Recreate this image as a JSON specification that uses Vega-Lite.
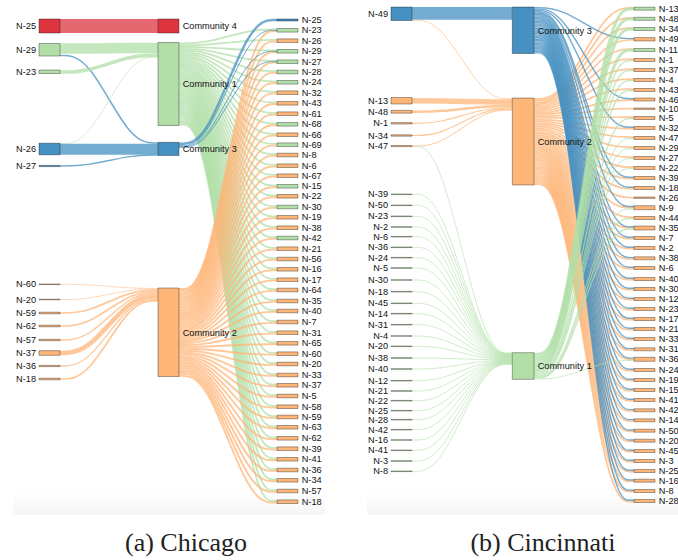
{"$schema":"https://vega.github.io/schema/vega-lite/v6.json","width":678,"height":560,"padding":0,"autosize":"none","background":"white","view":{"stroke":null},
"datasets":{
"links":[
{"id":"a-L-1","c":"4","w":14,"x":[60,87.4,130.6,158],"y":[26,26,26,26]},
{"id":"a-L-2","c":"1","w":10.5,"x":[60,87.4,130.6,158],"y":[48.5,48.5,48,48]},
{"id":"a-L-3","c":"3","w":1.5,"x":[60,87.4,130.6,158],"y":[55.5,55.5,143,143]},
{"id":"a-L-4","c":"1","w":3.5,"x":[60,87.4,130.6,158],"y":[72,72,55.2,55.2]},
{"id":"a-L-5","c":"1","w":0.7,"x":[60,87.4,130.6,158],"y":[143.4,143.4,57.3,57.3]},
{"id":"a-L-6","c":"3","w":11,"x":[60,87.4,130.6,158],"y":[149.2,149.2,149.2,149.2]},
{"id":"a-L-7","c":"3","w":1.4,"x":[60,87.4,130.6,158],"y":[166,166,155,155]},
{"id":"a-L-8","c":"2","w":0.7,"x":[60,87.4,130.6,158],"y":[284.3,284.3,288.4,288.4]},
{"id":"a-L-9","c":"2","w":0.7,"x":[60,87.4,130.6,158],"y":[299.5,299.5,289.1,289.1]},
{"id":"a-L-10","c":"2","w":1.7,"x":[60,87.4,130.6,158],"y":[313,313,290.3,290.3]},
{"id":"a-L-11","c":"2","w":1.7,"x":[60,87.4,130.6,158],"y":[326,326,292,292]},
{"id":"a-L-12","c":"2","w":1.4,"x":[60,87.4,130.6,158],"y":[340,340,293.5,293.5]},
{"id":"a-L-13","c":"2","w":4.5,"x":[60,87.4,130.6,158],"y":[353,353,296.5,296.5]},
{"id":"a-L-14","c":"2","w":1.3,"x":[60,87.4,130.6,158],"y":[366,366,299.4,299.4]},
{"id":"a-L-15","c":"2","w":1.7,"x":[60,87.4,130.6,158],"y":[379,379,300.9,300.9]},
{"id":"a-g-23","c":"1","w":1.8,"x":[179,206.4,249.6,277],"y":[43.4,43.4,29.5,29.5]},
{"id":"a-g-26","c":"1","w":1.8,"x":[179,206.4,249.6,277],"y":[45.2,45.2,39.9,39.9]},
{"id":"a-g-29","c":"1","w":1.8,"x":[179,206.4,249.6,277],"y":[47,47,50.5,50.5]},
{"id":"a-g-27","c":"1","w":1.8,"x":[179,206.4,249.6,277],"y":[48.8,48.8,60.9,60.9]},
{"id":"a-g-28","c":"1","w":1.8,"x":[179,206.4,249.6,277],"y":[50.6,50.6,71.2,71.2]},
{"id":"a-g-24","c":"1","w":1.8,"x":[179,206.4,249.6,277],"y":[52.4,52.4,81.5,81.5]},
{"id":"a-g-32","c":"1","w":1.8,"x":[179,206.4,249.6,277],"y":[54.2,54.2,91.9,91.9]},
{"id":"a-g-43","c":"1","w":1.8,"x":[179,206.4,249.6,277],"y":[56,56,102.5,102.5]},
{"id":"a-g-61","c":"1","w":1.8,"x":[179,206.4,249.6,277],"y":[57.8,57.8,112.9,112.9]},
{"id":"a-g-68","c":"1","w":1.8,"x":[179,206.4,249.6,277],"y":[59.6,59.6,123.5,123.5]},
{"id":"a-g-66","c":"1","w":1.8,"x":[179,206.4,249.6,277],"y":[61.4,61.4,133.9,133.9]},
{"id":"a-g-69","c":"1","w":1.8,"x":[179,206.4,249.6,277],"y":[63.2,63.2,143.9,143.9]},
{"id":"a-g-8","c":"1","w":1.8,"x":[179,206.4,249.6,277],"y":[65,65,154.2,154.2]},
{"id":"a-g-6","c":"1","w":1.8,"x":[179,206.4,249.6,277],"y":[66.9,66.9,164.9,164.9]},
{"id":"a-g-67","c":"1","w":1.8,"x":[179,206.4,249.6,277],"y":[68.7,68.7,174.9,174.9]},
{"id":"a-g-15","c":"1","w":1.8,"x":[179,206.4,249.6,277],"y":[70.5,70.5,185.5,185.5]},
{"id":"a-g-22","c":"1","w":1.8,"x":[179,206.4,249.6,277],"y":[72.3,72.3,195.5,195.5]},
{"id":"a-g-30","c":"1","w":1.8,"x":[179,206.4,249.6,277],"y":[74.1,74.1,206.2,206.2]},
{"id":"a-g-19","c":"1","w":1.8,"x":[179,206.4,249.6,277],"y":[75.9,75.9,216.5,216.5]},
{"id":"a-g-38","c":"1","w":1.8,"x":[179,206.4,249.6,277],"y":[77.7,77.7,226.9,226.9]},
{"id":"a-g-42","c":"1","w":1.8,"x":[179,206.4,249.6,277],"y":[79.5,79.5,237.2,237.2]},
{"id":"a-g-21","c":"1","w":1.8,"x":[179,206.4,249.6,277],"y":[81.3,81.3,247.9,247.9]},
{"id":"a-g-56","c":"1","w":1.8,"x":[179,206.4,249.6,277],"y":[83.1,83.1,258.2,258.2]},
{"id":"a-g-16","c":"1","w":1.8,"x":[179,206.4,249.6,277],"y":[84.9,84.9,268.5,268.5]},
{"id":"a-g-17","c":"1","w":1.8,"x":[179,206.4,249.6,277],"y":[86.7,86.7,278.9,278.9]},
{"id":"a-g-64","c":"1","w":1.8,"x":[179,206.4,249.6,277],"y":[88.5,88.5,289.2,289.2]},
{"id":"a-g-35","c":"1","w":1.8,"x":[179,206.4,249.6,277],"y":[90.3,90.3,300.2,300.2]},
{"id":"a-g-40","c":"1","w":1.8,"x":[179,206.4,249.6,277],"y":[92.2,92.2,310.2,310.2]},
{"id":"a-g-7","c":"1","w":1.8,"x":[179,206.4,249.6,277],"y":[94,94,321.2,321.2]},
{"id":"a-g-31","c":"1","w":1.8,"x":[179,206.4,249.6,277],"y":[95.8,95.8,331.9,331.9]},
{"id":"a-g-65","c":"1","w":1.8,"x":[179,206.4,249.6,277],"y":[97.6,97.6,342.5,342.5]},
{"id":"a-g-60","c":"1","w":1.8,"x":[179,206.4,249.6,277],"y":[99.4,99.4,352.9,352.9]},
{"id":"a-g-20","c":"1","w":1.8,"x":[179,206.4,249.6,277],"y":[101.2,101.2,363.2,363.2]},
{"id":"a-g-33","c":"1","w":1.8,"x":[179,206.4,249.6,277],"y":[103,103,374.2,374.2]},
{"id":"a-g-37","c":"1","w":1.8,"x":[179,206.4,249.6,277],"y":[104.8,104.8,384.5,384.5]},
{"id":"a-g-5","c":"1","w":1.8,"x":[179,206.4,249.6,277],"y":[106.6,106.6,395.2,395.2]},
{"id":"a-g-58","c":"1","w":1.8,"x":[179,206.4,249.6,277],"y":[108.4,108.4,405.9,405.9]},
{"id":"a-g-59","c":"1","w":1.8,"x":[179,206.4,249.6,277],"y":[110.2,110.2,416.2,416.2]},
{"id":"a-g-63","c":"1","w":1.8,"x":[179,206.4,249.6,277],"y":[112,112,426.5,426.5]},
{"id":"a-g-62","c":"1","w":1.8,"x":[179,206.4,249.6,277],"y":[113.8,113.8,437.5,437.5]},
{"id":"a-g-39","c":"1","w":1.8,"x":[179,206.4,249.6,277],"y":[115.6,115.6,447.9,447.9]},
{"id":"a-g-41","c":"1","w":1.8,"x":[179,206.4,249.6,277],"y":[117.4,117.4,458.5,458.5]},
{"id":"a-g-36","c":"1","w":1.8,"x":[179,206.4,249.6,277],"y":[119.3,119.3,469.2,469.2]},
{"id":"a-g-34","c":"1","w":1.8,"x":[179,206.4,249.6,277],"y":[121.1,121.1,479.5,479.5]},
{"id":"a-g-57","c":"1","w":1.8,"x":[179,206.4,249.6,277],"y":[122.9,122.9,490.2,490.2]},
{"id":"a-g-18","c":"1","w":1.8,"x":[179,206.4,249.6,277],"y":[124.7,124.7,500.9,500.9]},
{"id":"a-o-23","c":"2","w":1.9,"x":[179,206.4,249.6,277],"y":[289,289,31.2,31.2]},
{"id":"a-o-26","c":"2","w":1.9,"x":[179,206.4,249.6,277],"y":[290.9,290.9,41.6,41.6]},
{"id":"a-o-29","c":"2","w":1.9,"x":[179,206.4,249.6,277],"y":[292.9,292.9,52.2,52.2]},
{"id":"a-o-27","c":"2","w":1.9,"x":[179,206.4,249.6,277],"y":[294.8,294.8,62.6,62.6]},
{"id":"a-o-28","c":"2","w":1.9,"x":[179,206.4,249.6,277],"y":[296.7,296.7,72.9,72.9]},
{"id":"a-o-24","c":"2","w":1.9,"x":[179,206.4,249.6,277],"y":[298.7,298.7,83.2,83.2]},
{"id":"a-o-32","c":"2","w":1.9,"x":[179,206.4,249.6,277],"y":[300.6,300.6,93.6,93.6]},
{"id":"a-o-43","c":"2","w":1.9,"x":[179,206.4,249.6,277],"y":[302.5,302.5,104.2,104.2]},
{"id":"a-o-61","c":"2","w":1.9,"x":[179,206.4,249.6,277],"y":[304.4,304.4,114.6,114.6]},
{"id":"a-o-68","c":"2","w":1.9,"x":[179,206.4,249.6,277],"y":[306.4,306.4,125.2,125.2]},
{"id":"a-o-66","c":"2","w":1.9,"x":[179,206.4,249.6,277],"y":[308.3,308.3,135.6,135.6]},
{"id":"a-o-69","c":"2","w":1.9,"x":[179,206.4,249.6,277],"y":[310.2,310.2,145.6,145.6]},
{"id":"a-o-8","c":"2","w":1.9,"x":[179,206.4,249.6,277],"y":[312.2,312.2,155.9,155.9]},
{"id":"a-o-6","c":"2","w":1.9,"x":[179,206.4,249.6,277],"y":[314.1,314.1,166.6,166.6]},
{"id":"a-o-67","c":"2","w":1.9,"x":[179,206.4,249.6,277],"y":[316,316,176.6,176.6]},
{"id":"a-o-15","c":"2","w":1.9,"x":[179,206.4,249.6,277],"y":[318,318,187.2,187.2]},
{"id":"a-o-22","c":"2","w":1.9,"x":[179,206.4,249.6,277],"y":[319.9,319.9,197.2,197.2]},
{"id":"a-o-30","c":"2","w":1.9,"x":[179,206.4,249.6,277],"y":[321.8,321.8,207.9,207.9]},
{"id":"a-o-19","c":"2","w":1.9,"x":[179,206.4,249.6,277],"y":[323.7,323.7,218.2,218.2]},
{"id":"a-o-38","c":"2","w":1.9,"x":[179,206.4,249.6,277],"y":[325.7,325.7,228.6,228.6]},
{"id":"a-o-42","c":"2","w":1.9,"x":[179,206.4,249.6,277],"y":[327.6,327.6,238.9,238.9]},
{"id":"a-o-21","c":"2","w":1.9,"x":[179,206.4,249.6,277],"y":[329.5,329.5,249.6,249.6]},
{"id":"a-o-56","c":"2","w":1.9,"x":[179,206.4,249.6,277],"y":[331.5,331.5,259.9,259.9]},
{"id":"a-o-16","c":"2","w":1.9,"x":[179,206.4,249.6,277],"y":[333.4,333.4,270.2,270.2]},
{"id":"a-o-17","c":"2","w":1.9,"x":[179,206.4,249.6,277],"y":[335.3,335.3,280.6,280.6]},
{"id":"a-o-64","c":"2","w":1.9,"x":[179,206.4,249.6,277],"y":[337.3,337.3,290.9,290.9]},
{"id":"a-o-35","c":"2","w":1.9,"x":[179,206.4,249.6,277],"y":[339.2,339.2,301.9,301.9]},
{"id":"a-o-40","c":"2","w":1.9,"x":[179,206.4,249.6,277],"y":[341.1,341.1,311.9,311.9]},
{"id":"a-o-7","c":"2","w":1.9,"x":[179,206.4,249.6,277],"y":[343,343,322.9,322.9]},
{"id":"a-o-31","c":"2","w":1.9,"x":[179,206.4,249.6,277],"y":[345,345,333.6,333.6]},
{"id":"a-o-65","c":"2","w":1.9,"x":[179,206.4,249.6,277],"y":[346.9,346.9,344.2,344.2]},
{"id":"a-o-60","c":"2","w":1.9,"x":[179,206.4,249.6,277],"y":[348.8,348.8,354.6,354.6]},
{"id":"a-o-20","c":"2","w":1.9,"x":[179,206.4,249.6,277],"y":[350.8,350.8,364.9,364.9]},
{"id":"a-o-33","c":"2","w":1.9,"x":[179,206.4,249.6,277],"y":[352.7,352.7,375.9,375.9]},
{"id":"a-o-37","c":"2","w":1.9,"x":[179,206.4,249.6,277],"y":[354.6,354.6,386.2,386.2]},
{"id":"a-o-5","c":"2","w":1.9,"x":[179,206.4,249.6,277],"y":[356.6,356.6,396.9,396.9]},
{"id":"a-o-58","c":"2","w":1.9,"x":[179,206.4,249.6,277],"y":[358.5,358.5,407.6,407.6]},
{"id":"a-o-59","c":"2","w":1.9,"x":[179,206.4,249.6,277],"y":[360.4,360.4,417.9,417.9]},
{"id":"a-o-63","c":"2","w":1.9,"x":[179,206.4,249.6,277],"y":[362.3,362.3,428.2,428.2]},
{"id":"a-o-62","c":"2","w":1.9,"x":[179,206.4,249.6,277],"y":[364.3,364.3,439.2,439.2]},
{"id":"a-o-39","c":"2","w":1.9,"x":[179,206.4,249.6,277],"y":[366.2,366.2,449.6,449.6]},
{"id":"a-o-41","c":"2","w":1.9,"x":[179,206.4,249.6,277],"y":[368.1,368.1,460.2,460.2]},
{"id":"a-o-36","c":"2","w":1.9,"x":[179,206.4,249.6,277],"y":[370.1,370.1,470.9,470.9]},
{"id":"a-o-34","c":"2","w":1.9,"x":[179,206.4,249.6,277],"y":[372,372,481.2,481.2]},
{"id":"a-o-57","c":"2","w":1.9,"x":[179,206.4,249.6,277],"y":[373.9,373.9,491.9,491.9]},
{"id":"a-o-18","c":"2","w":1.9,"x":[179,206.4,249.6,277],"y":[375.9,375.9,502.6,502.6]},
{"id":"a-b-25","c":"3","w":2.4,"x":[179,206.4,249.6,277],"y":[143.7,143.7,20,20]},
{"id":"a-b-23","c":"3","w":1,"x":[179,206.4,249.6,277],"y":[145.4,145.4,30.3,30.3]},
{"id":"a-b-29","c":"3","w":1,"x":[179,206.4,249.6,277],"y":[146.4,146.4,51.3,51.3]},
{"id":"a-b-27","c":"3","w":1,"x":[179,206.4,249.6,277],"y":[147.4,147.4,61.7,61.7]},
{"id":"b-L-1","c":"3","w":12.6,"x":[412,440,484,512],"y":[13.4,13.4,13.4,13.4]},
{"id":"b-L-2","c":"2","w":0.8,"x":[412,440,484,512],"y":[20.3,20.3,98.7,98.7]},
{"id":"b-L-3","c":"2","w":5.5,"x":[412,440,484,512],"y":[100.8,100.8,102,102]},
{"id":"b-L-4","c":"2","w":2.5,"x":[412,440,484,512],"y":[111.8,111.8,106,106]},
{"id":"b-L-5","c":"2","w":1.2,"x":[412,440,484,512],"y":[123.3,123.3,107.9,107.9]},
{"id":"b-L-6","c":"2","w":1.2,"x":[412,440,484,512],"y":[135.5,135.5,109.1,109.1]},
{"id":"b-L-7","c":"2","w":1,"x":[412,440,484,512],"y":[146,146,110.2,110.2]},
{"id":"b-G-47","c":"1","w":0.8,"x":[412,440,484,512],"y":[146.5,146.5,353,353]},
{"id":"b-G-39","c":"1","w":0.8,"x":[412,440,484,512],"y":[194.3,194.3,353.4,353.4]},
{"id":"b-G-50","c":"1","w":0.8,"x":[412,440,484,512],"y":[205.3,205.3,353.8,353.8]},
{"id":"b-G-23","c":"1","w":0.8,"x":[412,440,484,512],"y":[216.3,216.3,354.3,354.3]},
{"id":"b-G-2","c":"1","w":0.8,"x":[412,440,484,512],"y":[227,227,354.7,354.7]},
{"id":"b-G-6","c":"1","w":0.8,"x":[412,440,484,512],"y":[236.7,236.7,355.1,355.1]},
{"id":"b-G-36","c":"1","w":0.8,"x":[412,440,484,512],"y":[247.3,247.3,355.5,355.5]},
{"id":"b-G-24","c":"1","w":0.8,"x":[412,440,484,512],"y":[257.7,257.7,355.9,355.9]},
{"id":"b-G-5","c":"1","w":0.8,"x":[412,440,484,512],"y":[268,268,356.4,356.4]},
{"id":"b-G-30","c":"1","w":0.8,"x":[412,440,484,512],"y":[280,280,356.8,356.8]},
{"id":"b-G-18","c":"1","w":0.8,"x":[412,440,484,512],"y":[291.7,291.7,357.2,357.2]},
{"id":"b-G-45","c":"1","w":0.8,"x":[412,440,484,512],"y":[303.3,303.3,357.6,357.6]},
{"id":"b-G-14","c":"1","w":0.8,"x":[412,440,484,512],"y":[313.7,313.7,358,358]},
{"id":"b-G-31","c":"1","w":0.8,"x":[412,440,484,512],"y":[324.7,324.7,358.5,358.5]},
{"id":"b-G-4","c":"1","w":0.8,"x":[412,440,484,512],"y":[336,336,358.9,358.9]},
{"id":"b-G-20","c":"1","w":0.8,"x":[412,440,484,512],"y":[346.3,346.3,359.3,359.3]},
{"id":"b-G-38","c":"1","w":0.8,"x":[412,440,484,512],"y":[358,358,359.7,359.7]},
{"id":"b-G-40","c":"1","w":0.8,"x":[412,440,484,512],"y":[369,369,360.1,360.1]},
{"id":"b-G-12","c":"1","w":0.8,"x":[412,440,484,512],"y":[380.7,380.7,360.6,360.6]},
{"id":"b-G-21","c":"1","w":0.8,"x":[412,440,484,512],"y":[391,391,361,361]},
{"id":"b-G-22","c":"1","w":0.8,"x":[412,440,484,512],"y":[400.7,400.7,361.4,361.4]},
{"id":"b-G-25","c":"1","w":0.8,"x":[412,440,484,512],"y":[410.7,410.7,361.8,361.8]},
{"id":"b-G-28","c":"1","w":0.8,"x":[412,440,484,512],"y":[419.7,419.7,362.2,362.2]},
{"id":"b-G-42","c":"1","w":0.8,"x":[412,440,484,512],"y":[429.7,429.7,362.7,362.7]},
{"id":"b-G-16","c":"1","w":0.8,"x":[412,440,484,512],"y":[440,440,363.1,363.1]},
{"id":"b-G-41","c":"1","w":0.8,"x":[412,440,484,512],"y":[450.3,450.3,363.5,363.5]},
{"id":"b-G-3","c":"1","w":0.8,"x":[412,440,484,512],"y":[461,461,363.9,363.9]},
{"id":"b-G-8","c":"1","w":0.8,"x":[412,440,484,512],"y":[471.3,471.3,364.3,364.3]},
{"id":"b-o-13","c":"2","w":1.74,"x":[534,562,606,634],"y":[98.9,98.9,7.8,7.8]},
{"id":"b-o-48","c":"2","w":1.74,"x":[534,562,606,634],"y":[100.6,100.6,17.9,17.9]},
{"id":"b-o-34","c":"2","w":1.74,"x":[534,562,606,634],"y":[102.4,102.4,28.1,28.1]},
{"id":"b-o-49","c":"2","w":1.74,"x":[534,562,606,634],"y":[104.1,104.1,40,40]},
{"id":"b-o-11","c":"2","w":1.74,"x":[534,562,606,634],"y":[105.9,105.9,49.1,49.1]},
{"id":"b-o-1","c":"2","w":1.74,"x":[534,562,606,634],"y":[107.6,107.6,59.1,59.1]},
{"id":"b-o-37","c":"2","w":1.74,"x":[534,562,606,634],"y":[109.3,109.3,69.1,69.1]},
{"id":"b-o-4","c":"2","w":1.74,"x":[534,562,606,634],"y":[111.1,111.1,79.1,79.1]},
{"id":"b-o-43","c":"2","w":1.74,"x":[534,562,606,634],"y":[112.8,112.8,89.1,89.1]},
{"id":"b-o-46","c":"2","w":1.74,"x":[534,562,606,634],"y":[114.6,114.6,100.2,100.2]},
{"id":"b-o-10","c":"2","w":1.74,"x":[534,562,606,634],"y":[116.3,116.3,108.7,108.7]},
{"id":"b-o-5","c":"2","w":1.74,"x":[534,562,606,634],"y":[118,118,117.1,117.1]},
{"id":"b-o-32","c":"2","w":1.74,"x":[534,562,606,634],"y":[119.8,119.8,128.7,128.7]},
{"id":"b-o-47","c":"2","w":1.74,"x":[534,562,606,634],"y":[121.5,121.5,137.1,137.1]},
{"id":"b-o-29","c":"2","w":1.74,"x":[534,562,606,634],"y":[123.3,123.3,147.1,147.1]},
{"id":"b-o-27","c":"2","w":1.74,"x":[534,562,606,634],"y":[125,125,157.1,157.1]},
{"id":"b-o-22","c":"2","w":1.74,"x":[534,562,606,634],"y":[126.7,126.7,167.1,167.1]},
{"id":"b-o-39","c":"2","w":1.74,"x":[534,562,606,634],"y":[128.5,128.5,178.7,178.7]},
{"id":"b-o-18","c":"2","w":1.74,"x":[534,562,606,634],"y":[130.2,130.2,188.7,188.7]},
{"id":"b-o-26","c":"2","w":1.74,"x":[534,562,606,634],"y":[132,132,197.7,197.7]},
{"id":"b-o-9","c":"2","w":1.74,"x":[534,562,606,634],"y":[133.7,133.7,207.7,207.7]},
{"id":"b-o-44","c":"2","w":1.74,"x":[534,562,606,634],"y":[135.4,135.4,217.1,217.1]},
{"id":"b-o-35","c":"2","w":1.74,"x":[534,562,606,634],"y":[137.2,137.2,228,228]},
{"id":"b-o-7","c":"2","w":1.74,"x":[534,562,606,634],"y":[138.9,138.9,238.7,238.7]},
{"id":"b-o-2","c":"2","w":1.74,"x":[534,562,606,634],"y":[140.7,140.7,248.7,248.7]},
{"id":"b-o-38","c":"2","w":1.74,"x":[534,562,606,634],"y":[142.4,142.4,259,259]},
{"id":"b-o-6","c":"2","w":1.74,"x":[534,562,606,634],"y":[144.1,144.1,268.7,268.7]},
{"id":"b-o-40","c":"2","w":1.74,"x":[534,562,606,634],"y":[145.9,145.9,279.7,279.7]},
{"id":"b-o-30","c":"2","w":1.74,"x":[534,562,606,634],"y":[147.6,147.6,289.7,289.7]},
{"id":"b-o-12","c":"2","w":1.74,"x":[534,562,606,634],"y":[149.4,149.4,299.7,299.7]},
{"id":"b-o-23","c":"2","w":1.74,"x":[534,562,606,634],"y":[151.1,151.1,309.7,309.7]},
{"id":"b-o-17","c":"2","w":1.74,"x":[534,562,606,634],"y":[152.8,152.8,319.7,319.7]},
{"id":"b-o-21","c":"2","w":1.74,"x":[534,562,606,634],"y":[154.6,154.6,329.7,329.7]},
{"id":"b-o-33","c":"2","w":1.74,"x":[534,562,606,634],"y":[156.3,156.3,339.7,339.7]},
{"id":"b-o-31","c":"2","w":1.74,"x":[534,562,606,634],"y":[158.1,158.1,350,350]},
{"id":"b-o-36","c":"2","w":1.74,"x":[534,562,606,634],"y":[159.8,159.8,359.3,359.3]},
{"id":"b-o-24","c":"2","w":1.74,"x":[534,562,606,634],"y":[161.5,161.5,370.7,370.7]},
{"id":"b-o-19","c":"2","w":1.74,"x":[534,562,606,634],"y":[163.3,163.3,380.7,380.7]},
{"id":"b-o-15","c":"2","w":1.74,"x":[534,562,606,634],"y":[165,165,390.7,390.7]},
{"id":"b-o-41","c":"2","w":1.74,"x":[534,562,606,634],"y":[166.8,166.8,400.7,400.7]},
{"id":"b-o-42","c":"2","w":1.74,"x":[534,562,606,634],"y":[168.5,168.5,411,411]},
{"id":"b-o-14","c":"2","w":1.74,"x":[534,562,606,634],"y":[170.2,170.2,421,421]},
{"id":"b-o-50","c":"2","w":1.74,"x":[534,562,606,634],"y":[172,172,431.4,431.4]},
{"id":"b-o-20","c":"2","w":1.74,"x":[534,562,606,634],"y":[173.7,173.7,441.4,441.4]},
{"id":"b-o-45","c":"2","w":1.74,"x":[534,562,606,634],"y":[175.5,175.5,451.7,451.7]},
{"id":"b-o-3","c":"2","w":1.74,"x":[534,562,606,634],"y":[177.2,177.2,461.7,461.7]},
{"id":"b-o-25","c":"2","w":1.74,"x":[534,562,606,634],"y":[178.9,178.9,471.7,471.7]},
{"id":"b-o-16","c":"2","w":1.74,"x":[534,562,606,634],"y":[180.7,180.7,481.4,481.4]},
{"id":"b-o-8","c":"2","w":1.74,"x":[534,562,606,634],"y":[182.4,182.4,491.7,491.7]},
{"id":"b-o-28","c":"2","w":1.74,"x":[534,562,606,634],"y":[184.2,184.2,501.7,501.7]},
{"id":"b-b-49","c":"3","w":1.37,"x":[534,562,606,634],"y":[7.7,7.7,38.6,38.6]},
{"id":"b-b-46","c":"3","w":1.37,"x":[534,562,606,634],"y":[9.1,9.1,98.8,98.8]},
{"id":"b-b-32","c":"3","w":1.37,"x":[534,562,606,634],"y":[10.4,10.4,127.3,127.3]},
{"id":"b-b-39","c":"3","w":1.37,"x":[534,562,606,634],"y":[11.8,11.8,177.3,177.3]},
{"id":"b-b-18","c":"3","w":1.37,"x":[534,562,606,634],"y":[13.2,13.2,187.3,187.3]},
{"id":"b-b-9","c":"3","w":1.37,"x":[534,562,606,634],"y":[14.5,14.5,206.5,206.5]},
{"id":"b-b-35","c":"3","w":1.37,"x":[534,562,606,634],"y":[15.9,15.9,226.8,226.8]},
{"id":"b-b-7","c":"3","w":1.37,"x":[534,562,606,634],"y":[17.3,17.3,237.3,237.3]},
{"id":"b-b-2","c":"3","w":1.37,"x":[534,562,606,634],"y":[18.6,18.6,247.3,247.3]},
{"id":"b-b-38","c":"3","w":1.37,"x":[534,562,606,634],"y":[20,20,257.6,257.6]},
{"id":"b-b-6","c":"3","w":1.37,"x":[534,562,606,634],"y":[21.4,21.4,267.3,267.3]},
{"id":"b-b-40","c":"3","w":1.37,"x":[534,562,606,634],"y":[22.8,22.8,278.3,278.3]},
{"id":"b-b-30","c":"3","w":1.37,"x":[534,562,606,634],"y":[24.1,24.1,288.3,288.3]},
{"id":"b-b-12","c":"3","w":1.37,"x":[534,562,606,634],"y":[25.5,25.5,298.3,298.3]},
{"id":"b-b-23","c":"3","w":1.37,"x":[534,562,606,634],"y":[26.9,26.9,308.3,308.3]},
{"id":"b-b-17","c":"3","w":1.37,"x":[534,562,606,634],"y":[28.2,28.2,318.3,318.3]},
{"id":"b-b-21","c":"3","w":1.37,"x":[534,562,606,634],"y":[29.6,29.6,328.3,328.3]},
{"id":"b-b-33","c":"3","w":1.37,"x":[534,562,606,634],"y":[31,31,338.3,338.3]},
{"id":"b-b-31","c":"3","w":1.37,"x":[534,562,606,634],"y":[32.3,32.3,348.6,348.6]},
{"id":"b-b-36","c":"3","w":1.37,"x":[534,562,606,634],"y":[33.7,33.7,358.1,358.1]},
{"id":"b-b-24","c":"3","w":1.37,"x":[534,562,606,634],"y":[35.1,35.1,369.3,369.3]},
{"id":"b-b-19","c":"3","w":1.37,"x":[534,562,606,634],"y":[36.4,36.4,379.3,379.3]},
{"id":"b-b-15","c":"3","w":1.37,"x":[534,562,606,634],"y":[37.8,37.8,389.3,389.3]},
{"id":"b-b-41","c":"3","w":1.37,"x":[534,562,606,634],"y":[39.2,39.2,399.3,399.3]},
{"id":"b-b-42","c":"3","w":1.37,"x":[534,562,606,634],"y":[40.5,40.5,409.6,409.6]},
{"id":"b-b-14","c":"3","w":1.37,"x":[534,562,606,634],"y":[41.9,41.9,419.6,419.6]},
{"id":"b-b-50","c":"3","w":1.37,"x":[534,562,606,634],"y":[43.3,43.3,430,430]},
{"id":"b-b-20","c":"3","w":1.37,"x":[534,562,606,634],"y":[44.6,44.6,440,440]},
{"id":"b-b-45","c":"3","w":1.37,"x":[534,562,606,634],"y":[46,46,450.3,450.3]},
{"id":"b-b-3","c":"3","w":1.37,"x":[534,562,606,634],"y":[47.4,47.4,460.3,460.3]},
{"id":"b-b-25","c":"3","w":1.37,"x":[534,562,606,634],"y":[48.7,48.7,470.3,470.3]},
{"id":"b-b-16","c":"3","w":1.37,"x":[534,562,606,634],"y":[50.1,50.1,480,480]},
{"id":"b-b-8","c":"3","w":1.37,"x":[534,562,606,634],"y":[51.5,51.5,490.3,490.3]},
{"id":"b-b-28","c":"3","w":1.37,"x":[534,562,606,634],"y":[52.9,52.9,500.3,500.3]},
{"id":"b-g-13","c":"1","w":3,"x":[534,562,606,634],"y":[354.2,354.2,9,9]},
{"id":"b-g-48","c":"1","w":3,"x":[534,562,606,634],"y":[357.2,357.2,19.1,19.1]},
{"id":"b-g-34","c":"1","w":3,"x":[534,562,606,634],"y":[360.2,360.2,29.3,29.3]},
{"id":"b-g-11","c":"1","w":3,"x":[534,562,606,634],"y":[363.2,363.2,50.3,50.3]},
{"id":"b-g-1","c":"1","w":1.3,"x":[534,562,606,634],"y":[365.4,365.4,60.7,60.7]},
{"id":"b-g-37","c":"1","w":1.3,"x":[534,562,606,634],"y":[366.7,366.7,70.7,70.7]},
{"id":"b-g-4","c":"1","w":1.3,"x":[534,562,606,634],"y":[368,368,80.7,80.7]},
{"id":"b-g-43","c":"1","w":1.3,"x":[534,562,606,634],"y":[369.3,369.3,90.7,90.7]},
{"id":"b-g-5","c":"1","w":1.3,"x":[534,562,606,634],"y":[370.6,370.6,118.7,118.7]},
{"id":"b-g-47","c":"1","w":1,"x":[534,562,606,634],"y":[371.7,371.7,138.7,138.7]},
{"id":"b-g-29","c":"1","w":1,"x":[534,562,606,634],"y":[372.7,372.7,148.7,148.7]},
{"id":"b-g-27","c":"1","w":1,"x":[534,562,606,634],"y":[373.7,373.7,158.7,158.7]},
{"id":"b-g-22","c":"1","w":1,"x":[534,562,606,634],"y":[374.7,374.7,168.7,168.7]},
{"id":"b-g-9","c":"1","w":1,"x":[534,562,606,634],"y":[375.7,375.7,209,209]},
{"id":"b-g-44","c":"1","w":1.2,"x":[534,562,606,634],"y":[376.8,376.8,218.7,218.7]},
{"id":"b-g-35","c":"1","w":1.2,"x":[534,562,606,634],"y":[378,378,229.2,229.2]},
{"id":"b-g-36","c":"1","w":0.8,"x":[534,562,606,634],"y":[379,379,360.5,360.5]}
],
"nodes":[
{"n":"N-25","c":"4","s":"L","x":39,"x2":60,"y":19,"y2":33,"m":26},
{"n":"N-29","c":"1","s":"L","x":39,"x2":60,"y":43.5,"y2":56,"m":50},
{"n":"N-23","c":"1","s":"L","x":39,"x2":60,"y":70,"y2":73.5,"m":72},
{"n":"N-26","c":"3","s":"L","x":39,"x2":60,"y":143.2,"y2":154.8,"m":149},
{"n":"N-27","c":"3","s":"L","x":39,"x2":60,"y":165.4,"y2":166.6,"m":166},
{"n":"N-60","c":"2","s":"L","x":39,"x2":60,"y":284,"y2":284.6,"m":284.3},
{"n":"N-20","c":"2","s":"L","x":39,"x2":60,"y":299.2,"y2":299.8,"m":299.5},
{"n":"N-59","c":"2","s":"L","x":39,"x2":60,"y":312.2,"y2":313.8,"m":313},
{"n":"N-62","c":"2","s":"L","x":39,"x2":60,"y":325.2,"y2":326.8,"m":326},
{"n":"N-57","c":"2","s":"L","x":39,"x2":60,"y":339.3,"y2":340.7,"m":340},
{"n":"N-37","c":"2","s":"L","x":39,"x2":60,"y":350.7,"y2":355.3,"m":353},
{"n":"N-36","c":"2","s":"L","x":39,"x2":60,"y":365.4,"y2":366.6,"m":366},
{"n":"N-18","c":"2","s":"L","x":39,"x2":60,"y":378.2,"y2":379.8,"m":379},
{"n":"Community 4","c":"4","s":"R","x":158,"x2":179,"y":19,"y2":33,"m":26},
{"n":"Community 1","c":"1","s":"R","x":158,"x2":179,"y":42.5,"y2":125.5,"m":84},
{"n":"Community 3","c":"3","s":"R","x":158,"x2":179,"y":142.3,"y2":155.5,"m":149.3},
{"n":"Community 2","c":"2","s":"R","x":158,"x2":179,"y":288,"y2":376.5,"m":332.7},
{"n":"N-25","c":"3","s":"R","x":277,"x2":298,"y":19,"y2":21,"m":20},
{"n":"N-23","c":"1","s":"R","x":277,"x2":298,"y":28.5,"y2":32.1,"m":30.3},
{"n":"N-26","c":"2","s":"R","x":277,"x2":298,"y":38.9,"y2":42.5,"m":40.7},
{"n":"N-29","c":"1","s":"R","x":277,"x2":298,"y":49.5,"y2":53.1,"m":51.3},
{"n":"N-27","c":"1","s":"R","x":277,"x2":298,"y":59.9,"y2":63.5,"m":61.7},
{"n":"N-28","c":"1","s":"R","x":277,"x2":298,"y":70.2,"y2":73.8,"m":72},
{"n":"N-24","c":"1","s":"R","x":277,"x2":298,"y":80.5,"y2":84.1,"m":82.3},
{"n":"N-32","c":"2","s":"R","x":277,"x2":298,"y":90.9,"y2":94.5,"m":92.7},
{"n":"N-43","c":"2","s":"R","x":277,"x2":298,"y":101.5,"y2":105.1,"m":103.3},
{"n":"N-61","c":"2","s":"R","x":277,"x2":298,"y":111.9,"y2":115.5,"m":113.7},
{"n":"N-68","c":"1","s":"R","x":277,"x2":298,"y":122.5,"y2":126.1,"m":124.3},
{"n":"N-66","c":"2","s":"R","x":277,"x2":298,"y":132.9,"y2":136.5,"m":134.7},
{"n":"N-69","c":"1","s":"R","x":277,"x2":298,"y":142.9,"y2":146.5,"m":144.7},
{"n":"N-8","c":"2","s":"R","x":277,"x2":298,"y":153.2,"y2":156.8,"m":155},
{"n":"N-6","c":"2","s":"R","x":277,"x2":298,"y":163.9,"y2":167.5,"m":165.7},
{"n":"N-67","c":"2","s":"R","x":277,"x2":298,"y":173.9,"y2":177.5,"m":175.7},
{"n":"N-15","c":"1","s":"R","x":277,"x2":298,"y":184.5,"y2":188.1,"m":186.3},
{"n":"N-22","c":"2","s":"R","x":277,"x2":298,"y":194.5,"y2":198.1,"m":196.3},
{"n":"N-30","c":"1","s":"R","x":277,"x2":298,"y":205.2,"y2":208.8,"m":207},
{"n":"N-19","c":"2","s":"R","x":277,"x2":298,"y":215.5,"y2":219.1,"m":217.3},
{"n":"N-38","c":"2","s":"R","x":277,"x2":298,"y":225.9,"y2":229.5,"m":227.7},
{"n":"N-42","c":"1","s":"R","x":277,"x2":298,"y":236.2,"y2":239.8,"m":238},
{"n":"N-21","c":"2","s":"R","x":277,"x2":298,"y":246.9,"y2":250.5,"m":248.7},
{"n":"N-56","c":"2","s":"R","x":277,"x2":298,"y":257.2,"y2":260.8,"m":259},
{"n":"N-16","c":"2","s":"R","x":277,"x2":298,"y":267.5,"y2":271.1,"m":269.3},
{"n":"N-17","c":"2","s":"R","x":277,"x2":298,"y":277.9,"y2":281.5,"m":279.7},
{"n":"N-64","c":"2","s":"R","x":277,"x2":298,"y":288.2,"y2":291.8,"m":290},
{"n":"N-35","c":"2","s":"R","x":277,"x2":298,"y":299.2,"y2":302.8,"m":301},
{"n":"N-40","c":"2","s":"R","x":277,"x2":298,"y":309.2,"y2":312.8,"m":311},
{"n":"N-7","c":"2","s":"R","x":277,"x2":298,"y":320.2,"y2":323.8,"m":322},
{"n":"N-31","c":"2","s":"R","x":277,"x2":298,"y":330.9,"y2":334.5,"m":332.7},
{"n":"N-65","c":"2","s":"R","x":277,"x2":298,"y":341.5,"y2":345.1,"m":343.3},
{"n":"N-60","c":"2","s":"R","x":277,"x2":298,"y":351.9,"y2":355.5,"m":353.7},
{"n":"N-20","c":"2","s":"R","x":277,"x2":298,"y":362.2,"y2":365.8,"m":364},
{"n":"N-33","c":"2","s":"R","x":277,"x2":298,"y":373.2,"y2":376.8,"m":375},
{"n":"N-37","c":"2","s":"R","x":277,"x2":298,"y":383.5,"y2":387.1,"m":385.3},
{"n":"N-5","c":"2","s":"R","x":277,"x2":298,"y":394.2,"y2":397.8,"m":396},
{"n":"N-58","c":"2","s":"R","x":277,"x2":298,"y":404.9,"y2":408.5,"m":406.7},
{"n":"N-59","c":"2","s":"R","x":277,"x2":298,"y":415.2,"y2":418.8,"m":417},
{"n":"N-63","c":"2","s":"R","x":277,"x2":298,"y":425.5,"y2":429.1,"m":427.3},
{"n":"N-62","c":"2","s":"R","x":277,"x2":298,"y":436.5,"y2":440.1,"m":438.3},
{"n":"N-39","c":"2","s":"R","x":277,"x2":298,"y":446.9,"y2":450.5,"m":448.7},
{"n":"N-41","c":"2","s":"R","x":277,"x2":298,"y":457.5,"y2":461.1,"m":459.3},
{"n":"N-36","c":"2","s":"R","x":277,"x2":298,"y":468.2,"y2":471.8,"m":470},
{"n":"N-34","c":"2","s":"R","x":277,"x2":298,"y":478.5,"y2":482.1,"m":480.3},
{"n":"N-57","c":"2","s":"R","x":277,"x2":298,"y":489.2,"y2":492.8,"m":491},
{"n":"N-18","c":"2","s":"R","x":277,"x2":298,"y":499.9,"y2":503.5,"m":501.7},
{"n":"N-49","c":"3","s":"L","x":391,"x2":412,"y":7,"y2":20.5,"m":14},
{"n":"N-13","c":"2","s":"L","x":391,"x2":412,"y":97.5,"y2":104,"m":100.8},
{"n":"N-48","c":"2","s":"L","x":391,"x2":412,"y":110.4,"y2":113.2,"m":111.8},
{"n":"N-1","c":"2","s":"L","x":391,"x2":412,"y":122.6,"y2":124,"m":123.3},
{"n":"N-34","c":"2","s":"L","x":391,"x2":412,"y":134.8,"y2":136.2,"m":135.5},
{"n":"N-47","c":"2","s":"L","x":391,"x2":412,"y":145.5,"y2":146.7,"m":146},
{"n":"N-39","c":"1","s":"L","x":391,"x2":412,"y":194,"y2":194.6,"m":194.3},
{"n":"N-50","c":"1","s":"L","x":391,"x2":412,"y":205,"y2":205.6,"m":205.3},
{"n":"N-23","c":"1","s":"L","x":391,"x2":412,"y":216,"y2":216.6,"m":216.3},
{"n":"N-2","c":"1","s":"L","x":391,"x2":412,"y":226.7,"y2":227.3,"m":227},
{"n":"N-6","c":"1","s":"L","x":391,"x2":412,"y":236.4,"y2":237,"m":236.7},
{"n":"N-36","c":"1","s":"L","x":391,"x2":412,"y":247,"y2":247.6,"m":247.3},
{"n":"N-24","c":"1","s":"L","x":391,"x2":412,"y":257.4,"y2":258,"m":257.7},
{"n":"N-5","c":"1","s":"L","x":391,"x2":412,"y":267.7,"y2":268.3,"m":268},
{"n":"N-30","c":"1","s":"L","x":391,"x2":412,"y":279.7,"y2":280.3,"m":280},
{"n":"N-18","c":"1","s":"L","x":391,"x2":412,"y":291.4,"y2":292,"m":291.7},
{"n":"N-45","c":"1","s":"L","x":391,"x2":412,"y":303,"y2":303.6,"m":303.3},
{"n":"N-14","c":"1","s":"L","x":391,"x2":412,"y":313.4,"y2":314,"m":313.7},
{"n":"N-31","c":"1","s":"L","x":391,"x2":412,"y":324.4,"y2":325,"m":324.7},
{"n":"N-4","c":"1","s":"L","x":391,"x2":412,"y":335.7,"y2":336.3,"m":336},
{"n":"N-20","c":"1","s":"L","x":391,"x2":412,"y":346,"y2":346.6,"m":346.3},
{"n":"N-38","c":"1","s":"L","x":391,"x2":412,"y":357.7,"y2":358.3,"m":358},
{"n":"N-40","c":"1","s":"L","x":391,"x2":412,"y":368.7,"y2":369.3,"m":369},
{"n":"N-12","c":"1","s":"L","x":391,"x2":412,"y":380.4,"y2":381,"m":380.7},
{"n":"N-21","c":"1","s":"L","x":391,"x2":412,"y":390.7,"y2":391.3,"m":391},
{"n":"N-22","c":"1","s":"L","x":391,"x2":412,"y":400.4,"y2":401,"m":400.7},
{"n":"N-25","c":"1","s":"L","x":391,"x2":412,"y":410.4,"y2":411,"m":410.7},
{"n":"N-28","c":"1","s":"L","x":391,"x2":412,"y":419.4,"y2":420,"m":419.7},
{"n":"N-42","c":"1","s":"L","x":391,"x2":412,"y":429.4,"y2":430,"m":429.7},
{"n":"N-16","c":"1","s":"L","x":391,"x2":412,"y":439.7,"y2":440.3,"m":440},
{"n":"N-41","c":"1","s":"L","x":391,"x2":412,"y":450,"y2":450.6,"m":450.3},
{"n":"N-3","c":"1","s":"L","x":391,"x2":412,"y":460.7,"y2":461.3,"m":461},
{"n":"N-8","c":"1","s":"L","x":391,"x2":412,"y":471,"y2":471.6,"m":471.3},
{"n":"Community 3","c":"3","s":"R","x":512.3,"x2":534,"y":7,"y2":53.5,"m":30.7},
{"n":"Community 2","c":"2","s":"R","x":512.3,"x2":534,"y":98,"y2":185,"m":141.7},
{"n":"Community 1","c":"1","s":"R","x":512.3,"x2":534,"y":352.7,"y2":379.3,"m":366},
{"n":"N-13","c":"1","s":"R","x":634,"x2":655,"y":7.2,"y2":10.2,"m":8.7},
{"n":"N-48","c":"1","s":"R","x":634,"x2":655,"y":17.3,"y2":20.3,"m":18.8},
{"n":"N-34","c":"1","s":"R","x":634,"x2":655,"y":27.5,"y2":30.5,"m":29},
{"n":"N-49","c":"2","s":"R","x":634,"x2":655,"y":37.6,"y2":41,"m":39.3},
{"n":"N-11","c":"1","s":"R","x":634,"x2":655,"y":48.5,"y2":51.5,"m":50},
{"n":"N-1","c":"2","s":"R","x":634,"x2":655,"y":58.5,"y2":61.5,"m":60},
{"n":"N-37","c":"2","s":"R","x":634,"x2":655,"y":68.5,"y2":71.5,"m":70},
{"n":"N-4","c":"2","s":"R","x":634,"x2":655,"y":78.5,"y2":81.5,"m":80},
{"n":"N-43","c":"2","s":"R","x":634,"x2":655,"y":88.5,"y2":91.5,"m":90},
{"n":"N-46","c":"2","s":"R","x":634,"x2":655,"y":98,"y2":101,"m":99.5},
{"n":"N-10","c":"2","s":"R","x":634,"x2":655,"y":108,"y2":109.4,"m":108.7},
{"n":"N-5","c":"2","s":"R","x":634,"x2":655,"y":116.5,"y2":119.5,"m":118},
{"n":"N-32","c":"2","s":"R","x":634,"x2":655,"y":126.5,"y2":129.5,"m":128},
{"n":"N-47","c":"2","s":"R","x":634,"x2":655,"y":136.5,"y2":139.5,"m":138},
{"n":"N-29","c":"2","s":"R","x":634,"x2":655,"y":146.5,"y2":149.5,"m":148},
{"n":"N-27","c":"2","s":"R","x":634,"x2":655,"y":156.5,"y2":159.5,"m":158},
{"n":"N-22","c":"2","s":"R","x":634,"x2":655,"y":166.5,"y2":169.5,"m":168},
{"n":"N-39","c":"2","s":"R","x":634,"x2":655,"y":176.5,"y2":179.5,"m":178},
{"n":"N-18","c":"2","s":"R","x":634,"x2":655,"y":186.5,"y2":189.5,"m":188},
{"n":"N-26","c":"2","s":"R","x":634,"x2":655,"y":197,"y2":198.4,"m":197.7},
{"n":"N-9","c":"2","s":"R","x":634,"x2":655,"y":205.7,"y2":209.7,"m":207.7},
{"n":"N-44","c":"2","s":"R","x":634,"x2":655,"y":216.5,"y2":219.5,"m":218},
{"n":"N-35","c":"2","s":"R","x":634,"x2":655,"y":226,"y2":230,"m":228},
{"n":"N-7","c":"2","s":"R","x":634,"x2":655,"y":236.5,"y2":239.5,"m":238},
{"n":"N-2","c":"2","s":"R","x":634,"x2":655,"y":246.5,"y2":249.5,"m":248},
{"n":"N-38","c":"2","s":"R","x":634,"x2":655,"y":256.8,"y2":259.8,"m":258.3},
{"n":"N-6","c":"2","s":"R","x":634,"x2":655,"y":266.5,"y2":269.5,"m":268},
{"n":"N-40","c":"2","s":"R","x":634,"x2":655,"y":277.5,"y2":280.5,"m":279},
{"n":"N-30","c":"2","s":"R","x":634,"x2":655,"y":287.5,"y2":290.5,"m":289},
{"n":"N-12","c":"2","s":"R","x":634,"x2":655,"y":297.5,"y2":300.5,"m":299},
{"n":"N-23","c":"2","s":"R","x":634,"x2":655,"y":307.5,"y2":310.5,"m":309},
{"n":"N-17","c":"2","s":"R","x":634,"x2":655,"y":317.5,"y2":320.5,"m":319},
{"n":"N-21","c":"2","s":"R","x":634,"x2":655,"y":327.5,"y2":330.5,"m":329},
{"n":"N-33","c":"2","s":"R","x":634,"x2":655,"y":337.5,"y2":340.5,"m":339},
{"n":"N-31","c":"2","s":"R","x":634,"x2":655,"y":347.8,"y2":350.8,"m":349.3},
{"n":"N-36","c":"2","s":"R","x":634,"x2":655,"y":357.3,"y2":361.3,"m":359.3},
{"n":"N-24","c":"2","s":"R","x":634,"x2":655,"y":368.5,"y2":371.5,"m":370},
{"n":"N-19","c":"2","s":"R","x":634,"x2":655,"y":378.5,"y2":381.5,"m":380},
{"n":"N-15","c":"2","s":"R","x":634,"x2":655,"y":388.5,"y2":391.5,"m":390},
{"n":"N-41","c":"2","s":"R","x":634,"x2":655,"y":398.5,"y2":401.5,"m":400},
{"n":"N-42","c":"2","s":"R","x":634,"x2":655,"y":408.8,"y2":411.8,"m":410.3},
{"n":"N-14","c":"2","s":"R","x":634,"x2":655,"y":418.8,"y2":421.8,"m":420.3},
{"n":"N-50","c":"2","s":"R","x":634,"x2":655,"y":429.2,"y2":432.2,"m":430.7},
{"n":"N-20","c":"2","s":"R","x":634,"x2":655,"y":439.2,"y2":442.2,"m":440.7},
{"n":"N-45","c":"2","s":"R","x":634,"x2":655,"y":449.5,"y2":452.5,"m":451},
{"n":"N-3","c":"2","s":"R","x":634,"x2":655,"y":459.5,"y2":462.5,"m":461},
{"n":"N-25","c":"2","s":"R","x":634,"x2":655,"y":469.5,"y2":472.5,"m":471},
{"n":"N-16","c":"2","s":"R","x":634,"x2":655,"y":479.2,"y2":482.2,"m":480.7},
{"n":"N-8","c":"2","s":"R","x":634,"x2":655,"y":489.5,"y2":492.5,"m":491},
{"n":"N-28","c":"2","s":"R","x":634,"x2":655,"y":499.5,"y2":502.5,"m":501}
]
},
"encoding":{
"x":{"type":"quantitative","scale":{"domain":[0,678],"nice":false,"zero":false},"axis":null},
"y":{"type":"quantitative","scale":{"domain":[0,560],"reverse":true,"nice":false,"zero":false},"axis":null}
},
"layer":[
{"data":{"values":[{"x":13,"x2":325,"y":490,"y2":515},{"x":367,"x2":678,"y":490,"y2":515}]},
"mark":{"type":"rect","color":{"gradient":"linear","x1":0,"y1":0,"x2":0,"y2":1,"stops":[{"offset":0,"color":"#ffffff"},{"offset":1,"color":"#f6f6f6"}]}},
"encoding":{"x":{"field":"x"},"x2":{"field":"x2"},"y":{"field":"y"},"y2":{"field":"y2"}}},
{"data":{"name":"links"},"transform":[{"flatten":["x","y"]}],
"mark":{"type":"line","interpolate":"basis","strokeCap":"butt","opacity":0.75},
"encoding":{"x":{"field":"x"},"y":{"field":"y"},"detail":{"field":"id"},
"color":{"field":"c","type":"nominal","legend":null,"scale":{"domain":["1","2","3","4"],"range":["#b2dfa8","#fdb578","#4690c2","#dc3540"]}},
"strokeWidth":{"field":"w","type":"quantitative","scale":null,"legend":null}}},
{"data":{"name":"nodes"},
"mark":{"type":"rect","stroke":"#000000","strokeOpacity":0.38,"strokeWidth":0.9},
"encoding":{"x":{"field":"x"},"x2":{"field":"x2"},"y":{"field":"y"},"y2":{"field":"y2"},
"fill":{"field":"c","type":"nominal","legend":null,"scale":{"domain":["1","2","3","4"],"range":["#b2dfa8","#fdb578","#4690c2","#dc3540"]}}}},
{"data":{"name":"nodes"},"transform":[{"filter":"datum.s==='L'"}],
"mark":{"type":"text","align":"right","baseline":"middle","dx":-3,"font":"Liberation Sans","fontSize":9.2,"color":"#111111"},
"encoding":{"x":{"field":"x"},"y":{"field":"m"},"text":{"field":"n"}}},
{"data":{"name":"nodes"},"transform":[{"filter":"datum.s==='R'"}],
"mark":{"type":"text","align":"left","baseline":"middle","dx":3.7,"font":"Liberation Sans","fontSize":9.2,"color":"#111111"},
"encoding":{"x":{"field":"x2"},"y":{"field":"m"},"text":{"field":"n"}}},
{"data":{"values":[{"t":"(a) Chicago","x":186,"y":543},{"t":"(b) Cincinnati","x":543,"y":543}]},
"mark":{"type":"text","align":"center","baseline":"middle","font":"Liberation Serif","fontSize":26,"color":"#222222"},
"encoding":{"x":{"field":"x"},"y":{"field":"y"},"text":{"field":"t"}}}
]}
